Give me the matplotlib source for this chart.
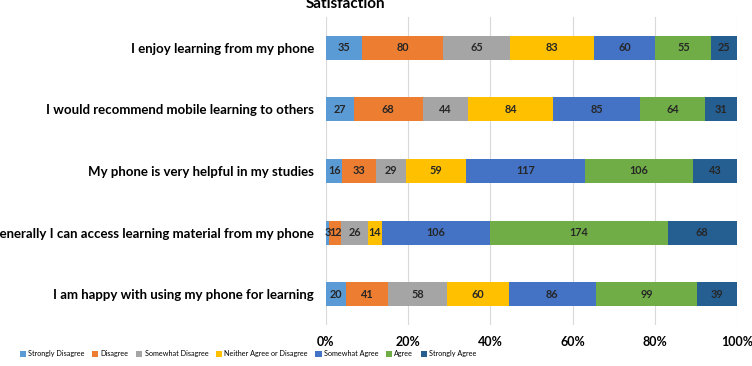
import numpy as np
import matplotlib
matplotlib.use("Agg")
import matplotlib.pyplot as plt

plt.rcParams['font.family'] = ['Lato', 'DejaVu Sans']

# categories, top to bottom
statements = ["I enjoy learning from my phone",
              "I would recommend mobile learning to others",
              "My phone is very helpful in my studies",
              "Generally I can access learning material from my phone",
              "I am happy with using my phone for learning"]

strongly_disagree = [35, 27, 16, 3, 20]
disagree = [80, 68, 33, 12, 41]
somewhat_disagree = [65, 44, 29, 26, 58]
neither = [83, 84, 59, 14, 60]
somewhat_agree = [60, 85, 117, 106, 86]
agree = [55, 64, 106, 174, 99]
strongly_agree = [25, 31, 43, 68, 39]

series_names = ["Strongly Disagree", "Disagree", "Somewhat Disagree",
                "Neither Agree or Disagree", "Somewhat Agree", "Agree", "Strongly Agree"]
colors = ["#5B9BD5", "#ED7D31", "#A5A5A5", "#FFC000", "#4472C4", "#70AD47", "#255E91"]

data = np.array([strongly_disagree, disagree, somewhat_disagree, neither,
                 somewhat_agree, agree, strongly_agree], dtype=float)
totals = data.sum(axis=0)
pct = data / totals

fig = plt.figure(figsize=(7.52, 3.66), dpi=100)
ax = fig.add_axes([0.4335, 0.112, 0.5465, 0.8416])

y = np.arange(len(statements))
left = np.zeros(len(statements))
for i in range(len(series_names)):
    ax.barh(y, pct[i], left=left, height=0.39, color=colors[i],
            label=series_names[i], zorder=2)
    for j in range(len(statements)):
        ax.text(left[j] + pct[i][j] / 2, y[j], f"{int(data[i][j])}",
                ha="center", va="center", fontsize=7.8, fontweight="bold",
                color="#262626", zorder=3)
    left += pct[i]

ax.set_ylim(len(statements) - 0.5, -0.5)
ax.set_xlim(0, 1)
ax.set_xticks(np.linspace(0, 1, 6))
ax.set_xticklabels([f"{int(v*100)}%" for v in np.linspace(0, 1, 6)],
                   fontsize=9, fontweight="bold")
ax.set_yticks(y)
ax.set_yticklabels(statements, fontsize=9.5, fontweight="bold")
ax.tick_params(axis="both", length=0)
ax.tick_params(axis="y", pad=8.5)
ax.tick_params(axis="x", pad=8)
ax.grid(axis="x", color="#D9D9D9", linewidth=0.8, zorder=0)
for s in ax.spines.values():
    s.set_visible(False)

fig.text(0.459, 0.99, "Satisfaction", ha="center", va="center",
         fontsize=11, fontweight="bold")

# narrow font for the legend, like the original
fig.legend(loc="center left", bbox_to_anchor=(0.026, 0.033), ncol=7, frameon=False,
           prop={"family": ["Liberation Sans Narrow", "Lato"], "size": 5.2},
           handlelength=0.9, handleheight=0.9, handletextpad=0.3,
           columnspacing=1.0, borderpad=0, borderaxespad=0)

fig.savefig("out.png", dpi=100)
